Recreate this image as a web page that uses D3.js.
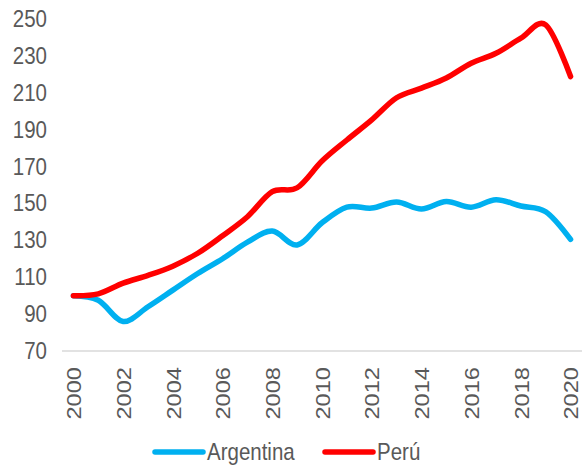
<!DOCTYPE html>
<html>
<head>
<meta charset="utf-8">
<script src="https://cdn.jsdelivr.net/npm/d3@7"></script>
<style>
  body { margin: 0; background: #fff; }
  text { font-family: "Liberation Sans", Arial, sans-serif; fill: #595959; }
</style>
</head>
<body>
<svg id="chart" width="582" height="465"></svg>
<script>
var years = d3.range(2000, 2021);
var argentina = [100, 97.5, 86, 94, 103, 112, 120, 129, 135, 127.5, 139.5, 148, 147.5, 150.8, 147, 151, 148, 152, 148.6, 145.5, 130.5];
var peru = [100, 101, 106.8, 111, 116, 123, 132.5, 142.8, 156.4, 158.5, 173, 184.4, 195.3, 207.3, 212.5, 218, 226, 231.4, 239.6, 246.8, 218.8];
var yTicks = [70, 90, 110, 130, 150, 170, 190, 210, 230, 250];
var xTicks = [2000, 2002, 2004, 2006, 2008, 2010, 2012, 2014, 2016, 2018, 2020];

var svg = d3.select("#chart");
var fontSize = 20.5, stretch = 1.15;

var x = d3.scaleLinear().domain([1999.5, 2020.5]).range([61, 583]);
var y = d3.scaleLinear().domain([70, 250]).range([351, 19]);

// bottom axis line
svg.append("line")
    .attr("x1", 62).attr("x2", 582)
    .attr("y1", y(70)).attr("y2", y(70))
    .attr("stroke", "#d9d9d9")
    .attr("stroke-width", 1.5);

// y labels
var gy = svg.append("g")
    .attr("transform", "translate(47,0)")
    .call(d3.axisLeft(y).tickValues(yTicks).tickSize(0).tickPadding(0));
gy.select(".domain").remove();
gy.selectAll("text")
    .attr("font-size", fontSize)
    .style("font-family", "Liberation Sans, Arial, sans-serif")
    .attr("fill", "#595959")
    .attr("transform", "scale(1," + stretch + ")");

// x labels
var gx = svg.append("g")
    .attr("transform", "translate(0," + y(70) + ")")
    .call(d3.axisBottom(x).tickValues(xTicks).tickSize(0).tickFormat(d3.format("d")));
gx.select(".domain").remove();
gx.selectAll("text")
    .attr("font-size", fontSize)
    .style("font-family", "Liberation Sans, Arial, sans-serif")
    .attr("fill", "#595959")
    .attr("text-anchor", "end")
    .attr("x", -14)
    .attr("y", 0)
    .attr("dy", "0.35em")
    .attr("transform", "scale(1," + stretch + ") rotate(-90)");

var line = d3.line()
    .x(function (d, i) { return x(years[i]); })
    .y(function (d) { return y(d); })
    .curve(d3.curveCardinal.tension(0));

var series = [
    { name: "Argentina", values: argentina, color: "#00b0f0" },
    { name: "Perú", values: peru, color: "#ff0000" }
];

series.forEach(function (s) {
    svg.append("path")
        .attr("d", line(s.values))
        .attr("fill", "none")
        .attr("stroke", s.color)
        .attr("stroke-width", 5.5)
        .attr("stroke-linecap", "round")
        .attr("stroke-linejoin", "round");
});

// legend
var legendX = [155, 325];
var legend = svg.selectAll(".legend")
    .data(series)
    .enter().append("g")
    .attr("class", "legend")
    .attr("transform", function (d, i) { return "translate(" + legendX[i] + ",452)"; });
legend.append("line")
    .attr("x1", 0).attr("x2", 48)
    .attr("stroke", function (d) { return d.color; })
    .attr("stroke-width", 5.5)
    .attr("stroke-linecap", "round");
legend.append("text")
    .attr("x", 52)
    .attr("dy", "0.36em")
    .attr("font-size", fontSize)
    .attr("transform", "scale(1," + stretch + ")")
    .text(function (d) { return d.name; });
</script>
</body>
</html>
